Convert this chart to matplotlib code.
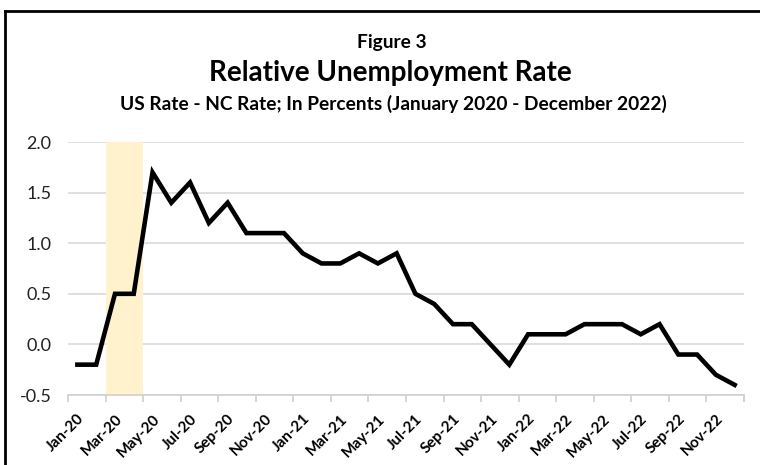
import matplotlib
matplotlib.use("Agg")
import matplotlib.pyplot as plt
import matplotlib.lines as mlines
import numpy as np

# Data
months = ["Jan-20", "Feb-20", "Mar-20", "Apr-20", "May-20", "Jun-20", "Jul-20", "Aug-20",
          "Sep-20", "Oct-20", "Nov-20", "Dec-20",
          "Jan-21", "Feb-21", "Mar-21", "Apr-21", "May-21", "Jun-21", "Jul-21", "Aug-21",
          "Sep-21", "Oct-21", "Nov-21", "Dec-21",
          "Jan-22", "Feb-22", "Mar-22", "Apr-22", "May-22", "Jun-22", "Jul-22", "Aug-22",
          "Sep-22", "Oct-22", "Nov-22", "Dec-22"]
rel_rate = [-0.2, -0.2, 0.5, 0.5, 1.7, 1.4, 1.6, 1.2, 1.4, 1.1, 1.1, 1.1,
            0.9, 0.8, 0.8, 0.9, 0.8, 0.9, 0.5, 0.4, 0.2, 0.2, 0.0, -0.2,
            0.1, 0.1, 0.1, 0.2, 0.2, 0.2, 0.1, 0.2, -0.1, -0.1, -0.3, -0.4]
shade_months = ["Mar-20", "Apr-20"]  # recession shading
y_ticks = [-0.5, 0.0, 0.5, 1.0, 1.5, 2.0]

font = ["Lato", "DejaVu Sans"]

fig = plt.figure(figsize=(7.6, 4.65), dpi=100)
ax = fig.add_axes([0.0895, 0.1505, 0.8895, 0.5441])

x = np.arange(len(months))
s0 = months.index(shade_months[0])
s1 = months.index(shade_months[-1])
ax.axvspan(s0 - 0.5, s1 + 0.5, color="#FFF2CC", zorder=1, lw=0)
ax.plot(x, rel_rate, color="black", lw=3.3, solid_joinstyle="miter", zorder=3)

ax.set_xlim(-0.5, len(months) - 0.5)
ax.set_ylim(y_ticks[0], y_ticks[-1])
ax.set_yticks(y_ticks)
ax.set_yticklabels([f"{v:.1f}" for v in y_ticks], fontsize=13, color="#222222", family=font)
ax.yaxis.grid(True, color="#d9d9d9", lw=1.2)
ax.set_axisbelow(True)
ax.tick_params(axis="y", length=0, pad=12)

# labels every other month at category centres, tick marks at boundaries
ax.set_xticks(x[::2])
ax.set_xticklabels(months[::2], rotation=45, ha="right", rotation_mode="anchor",
                   fontsize=11, fontweight="bold", family=font)
ax.tick_params(axis="x", which="major", length=0, pad=12)
bounds = list(np.arange(-0.5, len(months), 2)) + [len(months) - 0.5]
ax.set_xticks(bounds, minor=True)
ax.tick_params(axis="x", which="minor", length=5, color="#d0d0d0", width=1.2)

for side in ["top", "right", "left"]:
    ax.spines[side].set_visible(False)
ax.spines["bottom"].set_color("#d0d0d0")
ax.spines["bottom"].set_linewidth(1.2)

# titles
fig.text(0.515, 0.908, "Figure 3", ha="center", va="center", fontsize=13.8,
         fontweight="bold", family=font)
fig.text(0.513, 0.842, "Relative Unemployment Rate", ha="center", va="center",
         fontsize=20, fontweight="bold", family=font)
fig.text(0.518, 0.777, "US Rate - NC Rate; In Percents (January 2020 - December 2022)",
         ha="center", va="center", fontsize=13.8, fontweight="bold", family=font)

# frame lines (top and left)
fig.add_artist(mlines.Line2D([0.006, 1.0], [0.977, 0.977], color="black", lw=2,
                             transform=fig.transFigure))
fig.add_artist(mlines.Line2D([0.006, 0.006], [0.0, 0.977], color="black", lw=2,
                             transform=fig.transFigure))

fig.savefig("out.png", dpi=100)
